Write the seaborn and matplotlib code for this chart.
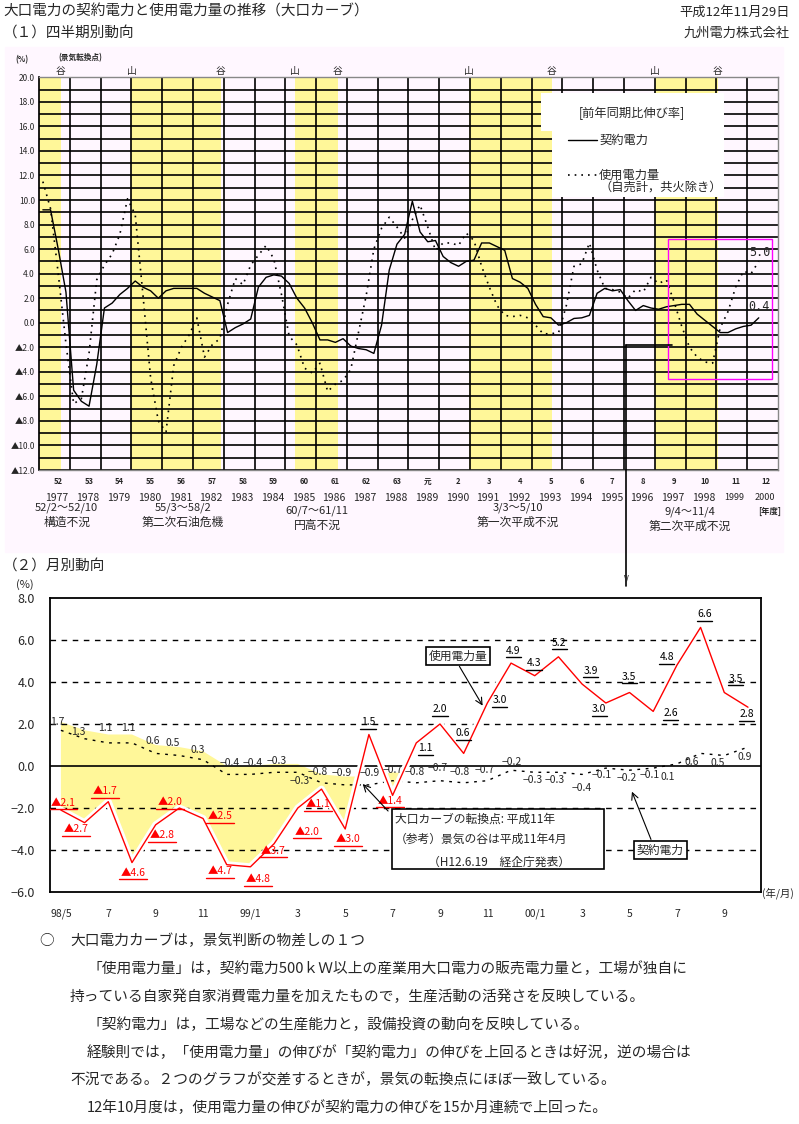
import numpy as np
import pandas as pd
import matplotlib
matplotlib.use("Agg")
import matplotlib.pyplot as plt
import matplotlib.patheffects as pe
from matplotlib.patches import Rectangle
from matplotlib.lines import Line2D
import seaborn as sns

# ---------------- (1) quarterly data : FY1977 Q1 .. FY2000 Q2 ----------------
fiscal_years = list(range(1977, 2001))
era_labels = ['52', '53', '54', '55', '56', '57', '58', '59', '60', '61', '62', '63',
              '元', '2', '3', '4', '5', '6', '7', '8', '9', '10', '11', '12']

# contract power (solid)
keiyaku_q = [9.2, 9.2, 6.0, 2.5,  -5.5, -6.4, -6.8, -3.4,  1.2, 1.6, 2.3, 2.8,
             3.4, 2.9, 2.6, 2.0,  2.6, 2.8, 2.8, 2.8,  2.8, 2.4, 2.1, 1.8,
             -0.8, -0.4, -0.1, 0.3,  2.9, 3.7, 3.9, 3.8,  3.2, 2.0, 1.2, 0.0,
             -1.4, -1.4, -1.6, -1.3,  -1.9, -2.1, -2.2, -2.5,  -0.2, 4.3, 6.4, 7.2,
             9.9, 7.4, 6.6, 6.7,  5.4, 4.9, 4.6, 5.0,  5.1, 6.5, 6.5, 6.2,
             5.9, 3.6, 3.3, 2.8,  1.5, 0.5, 0.4, -0.2,  0.0, 0.35, 0.4, 0.6,
             2.4, 2.8, 2.6, 2.7,  1.8, 1.0, 1.4, 1.2,  1.1, 1.3, 1.4, 1.5,
             1.5, 0.7, 0.2, -0.3,  -0.8, -0.8, -0.5, -0.3,  -0.2, 0.4]
# electricity used (dotted)
shiyou_q = [11.5, 9.3, 4.0, -1.7,  -6.6, -6.2, -2.5, 3.5,  4.7, 5.6, 7.2, 10.1,
            8.8, 2.3, -4.5, -8.0,  -8.9, -3.5, -2.0, -1.0,  0.4, -2.8, -1.8, -1.3,
            1.5, 3.6, 3.1, 4.7,  5.5, 6.3, 5.2, 2.3,  -1.1, -1.8, -3.7, -4.1,
            -3.3, -5.6, -5.0, -4.7,  -3.8, -0.8, 2.2, 6.0,  7.7, 8.6, 7.8, 6.9,
            8.4, 9.6, 7.8, 5.9,  6.5, 6.5, 6.3, 7.3,  6.7, 4.6, 2.9, 1.4,
            0.6, 0.5, 0.6, 0.4,  -0.2, -0.9, -0.9, -0.8,  1.4, 4.6, 4.8, 6.5,
            4.3, 2.8, 2.7, 2.5,  2.0, 2.7, 2.5, 3.7,  3.2, 3.5, 1.7, -0.3,
            -2.0, -2.8, -3.2, -3.3,  -0.4, 0.9, 2.9, 4.2,  4.0, 5.0]

turn_points = [1977.7, 1980.0, 1982.9, 1985.3, 1986.7, 1990.95, 1993.65, 1997.0, 1999.05]
turn_labels = ['谷', '山', '谷', '山', '谷', '山', '谷', '山', '谷']
recession_periods = ['52/2～52/10', '55/3～58/2', '60/7～61/11', '3/3～5/10', '9/4～11/4']
recession_names = ['構造不況', '第二次石油危機', '円高不況', '第一次平成不況', '第二次平成不況']
recession_label_x = [66.7, 183, 317, 518, 690]      # pixel centres of the captions
recession_label_y = [508, 508, 511, 508, 512]

# ---------------- (2) monthly data : 98/5 .. 00/10 ----------------
months = ['98/5', '6', '7', '8', '9', '10', '11', '12',
          '99/1', '2', '3', '4', '5', '6', '7', '8', '9', '10', '11', '12',
          '00/1', '2', '3', '4', '5', '6', '7', '8', '9', '10']
keiyaku_m = [1.7, 1.3, 1.1, 1.1, 0.6, 0.5, 0.3, -0.4, -0.4, -0.3, -0.3, -0.8, -0.9, -0.9,
             -0.7, -0.8, -0.7, -0.8, -0.7, -0.2, -0.3, -0.3, -0.4, -0.1, -0.2, -0.1,
             0.1, 0.6, 0.5, 0.9]
shiyou_m = [-2.1, -2.7, -1.7, -4.6, -2.8, -2.0, -2.5, -4.7, -4.8, -3.7, -2.0, -1.1, -3.0,
            1.5, -1.4, 1.1, 2.0, 0.6, 3.0, 4.9, 4.3, 5.2, 3.9, 3.0, 3.5, 2.6, 4.8, 6.6,
            3.5, 2.8]

# label offsets (months, %) for the value labels
shiyou_dx = [0.08, -0.37, -0.14, 0.04, 0.26, -0.4, 0.71, -0.29, 0.32, -0.05, 0.38, -0.15,
             0.11, -0.04, -0.11, 0.39, 0.0, -0.02, 0.53, 0.09, -0.03, 0.03, 0.36, -0.28,
             -0.01, 0.74, -0.43, 0.16, 0.48, -0.06]
shiyou_dy = [0.35, -0.3, 0.52, -0.48, -0.49, 0.27, 0.12, -0.3, -0.6, -0.33, -1.13, -0.71,
             -0.49, 0.6, -0.25, -0.26, 0.7, 0.96, 0.14, 0.59, 0.59, 0.67, 0.64, -0.3, 0.75,
             -0.09, 0.4, 0.62, 0.66, -0.34]
keiyaku_dx = [-0.17, -0.28, -0.14, -0.17, -0.12, -0.27, -0.22, 0.13, 0.1, 0.12, 0.09, -0.15,
              -0.14, 0.04, 0.01, -0.06, -0.09, -0.16, -0.1, 0.04, -0.08, -0.15, -0.01, -0.16,
              -0.11, -0.14, -0.38, -0.37, -0.27, -0.13]
keiyaku_dy = [0.4, 0.3, 0.7, 0.7, 0.6, 0.6, 0.46, 0.53, 0.53, 0.54, -0.41, 0.53, 0.55, 0.55,
              0.51, 0.53, 0.62, 0.53, 0.51, 0.4, -0.37, -0.37, -0.66, -0.33, -0.39, -0.33,
              -0.61, -0.4, -0.34, -0.49]

notes = ['大口電力カーブは，景気判断の物差しの１つ',
         '「使用電力量」は，契約電力500ｋＷ以上の産業用大口電力の販売電力量と，工場が独自に',
         '持っている自家発自家消費電力量を加えたもので，生産活動の活発さを反映している。',
         '「契約電力」は，工場などの生産能力と，設備投資の動向を反映している。',
         '経験則では，「使用電力量」の伸びが「契約電力」の伸びを上回るときは好況，逆の場合は',
         '不況である。２つのグラフが交差するときが，景気の転換点にほぼ一致している。',
         '12年10月度は，使用電力量の伸びが契約電力の伸びを15か月連続で上回った。']
notes_x = [70, 87, 70, 87, 87, 70, 87]

YELLOW = '#FFF799'
LAVENDER = '#FFF7FF'
RED = '#FF0000'

sns.set_theme(style="white")
plt.rcParams['font.family'] = ['Noto Sans CJK JP', 'DejaVu Sans']
plt.rcParams['axes.unicode_minus'] = True

W, H = 799, 1124
fig = plt.figure(figsize=(W / 100, H / 100), dpi=100)
fig.patch.set_facecolor('white')


def fx(x):
    return x / W


def fy(y):
    return 1 - y / H


# header texts
fig.text(fx(3), fy(12), '大口電力の契約電力と使用電力量の推移（大口カーブ）', fontsize=10.5, va='center')
fig.text(fx(3), fy(33), '（１）四半期別動向', fontsize=10.5, va='center')
fig.text(fx(790), fy(12), '平成12年11月29日', fontsize=9.5, va='center', ha='right')
fig.text(fx(790), fy(33), '九州電力株式会社', fontsize=9.5, va='center', ha='right')
fig.text(fx(3), fy(566), '（２）月別動向', fontsize=10.5, va='center')

fig.add_artist(Rectangle((fx(5), fy(552)), fx(783) - fx(5), fy(47) - fy(552),
                         transform=fig.transFigure, color=LAVENDER, zorder=-1))

# ================= (1) quarterly chart =================
ax1 = fig.add_axes([fx(39), fy(470), fx(778) - fx(39), fy(77.3) - fy(470)])
ax1.set_facecolor(LAVENDER)
qx = [yr + 0.125 + 0.25 * q for yr in fiscal_years for q in range(4)][:len(keiyaku_q)]
df_q = pd.DataFrame({'x': qx, 'keiyaku': keiyaku_q, 'shiyou': shiyou_q})

# recession bands (peak -> trough); the first starts before the axis
starts = [1977.0] + [t for t, l in zip(turn_points, turn_labels) if l == '山']
ends = [t for t, l in zip(turn_points, turn_labels) if l == '谷']
for s, e in zip(starts, ends):
    ax1.axvspan(s, e, color=YELLOW, lw=0, zorder=0.2)

ax1.set_xlim(1977, 2001)
ax1.set_ylim(-12, 20)
yt = list(range(-12, 21, 2))
ax1.set_yticks(yt)
ax1.set_yticklabels([f'{v:.1f}' if v >= 0 else f'▲{-v:.1f}' for v in yt], fontsize=6)
ax1.set_yticks(range(-11, 20, 2), minor=True)
ax1.set_xticks(fiscal_years[1:])
ax1.set_xticklabels([])
ax1.grid(True, which='both', color='black', lw=1.2)
ax1.set_axisbelow(True)
ax1.tick_params(axis='both', which='both', length=0, pad=3)
for side in ['top', 'right', 'bottom']:
    ax1.spines[side].set_color('#888888')
    ax1.spines[side].set_linewidth(1.0)
ax1.spines['left'].set_color('black')

sns.lineplot(data=df_q, x='x', y='keiyaku', ax=ax1, color='black', lw=1.0, zorder=4)
sns.lineplot(data=df_q, x='x', y='shiyou', ax=ax1, color='black', lw=1.2, zorder=4)
ax1.lines[-1].set_linestyle((0, (1, 3)))
ax1.set_xlabel('')
ax1.set_ylabel('')

# legend panel
ax1.add_patch(Rectangle((1993.3, 15.6), 5.95, 3.1, color='white', zorder=2.5, lw=0))
ax1.add_patch(Rectangle((1993.66, 10.25), 5.6, 5.5, color='white', zorder=2.5, lw=0))
ax1.text(1996.25, 17.07, '[前年同期比伸び率]', fontsize=8.8, ha='center', va='center', zorder=5)
ax1.plot([1994.18, 1995.12], [14.87, 14.87], color='black', lw=1.0, zorder=5)
ax1.text(1995.19, 14.87, '契約電力', fontsize=8.8, va='center', zorder=5)
ax1.plot([1994.18, 1995.12], [12.04, 12.04], color='black', lw=1.2, ls=(0, (1, 3)), zorder=5)
ax1.text(1995.19, 12.04, '使用電力量', fontsize=8.8, va='center', zorder=5)
ax1.text(1995.19, 10.95, '（自売計，共火除き）', fontsize=8.8, va='center', zorder=5)

# last values + highlight box
ax1.text(2000.05, shiyou_q[-1] + 0.76, f'{shiyou_q[-1]:.1f}', fontsize=8.5, va='center',
         family='DejaVu Sans Mono', zorder=5)
ax1.text(2000.05, keiyaku_q[-1] + 0.96, f'{keiyaku_q[-1]:.1f}', fontsize=8.5, va='center',
         family='DejaVu Sans Mono', zorder=5)
ax1.add_patch(Rectangle((1997.42, -4.6), 3.38, 11.4, fill=False, edgecolor='#FF00FF',
                        lw=1.0, zorder=5))

for t, l in zip(turn_points, turn_labels):
    ax1.text(t, 20.5, l, fontsize=7, ha='center', va='center', clip_on=False)
fig.text(fx(22), fy(60), '(%)', fontsize=5.5, ha='center', va='center', weight='bold')
fig.text(fx(80), fy(58), '(景気転換点)', fontsize=5.5, ha='center', va='center', weight='bold')

for yr, era in zip(fiscal_years, era_labels):
    xp = 39 + (yr - 1977 + 0.62) * 30.79
    fig.text(fx(xp), fy(482), era, fontsize=5.5, ha='center', va='center', weight='bold')
    fig.text(fx(xp - 1), fy(498), str(yr), fontsize=7.5 if yr < 1999 else 6.5,
             ha='center', va='center')
fig.text(fx(770), fy(511), '[年度]', fontsize=6, ha='center', va='center', weight='bold')
for px_, py_, per, name in zip(recession_label_x, recession_label_y,
                               recession_periods, recession_names):
    fig.text(fx(px_), fy(py_), per, fontsize=8, ha='center', va='center')
    fig.text(fx(px_), fy(py_ + 14), name, fontsize=8.5, ha='center', va='center')

# connector from the quarterly box down to the monthly chart
fig.add_artist(Line2D([fx(672), fx(626)], [fy(345), fy(345)], transform=fig.transFigure,
                      color='black', lw=1.2))
fig.add_artist(Line2D([fx(626), fx(626)], [fy(345), fy(586)], transform=fig.transFigure,
                      color='black', lw=1.2))
fig.text(fx(626.5), fy(580), 'V', fontsize=6, ha='center', va='center')

# ================= (2) monthly chart =================
ax2 = fig.add_axes([fx(50), fy(892), fx(761) - fx(50), fy(598) - fy(892)])
mx = np.arange(len(months))
km = np.array(keiyaku_m)
sm = np.array(shiyou_m)
df_m = pd.DataFrame({'x': mx, 'keiyaku': km, 'shiyou': sm})

ax2.set_xlim(-0.46, 29.55)
ax2.set_ylim(-6, 8)
yt2 = list(range(-6, 9, 2))
ax2.set_yticks(yt2)
ax2.set_yticklabels([f'{v:.1f}'.replace('-', '−') for v in yt2], fontsize=9)
ax2.set_xticks(mx[::2])
ax2.set_xticklabels(months[::2], fontsize=7.5)
ax2.tick_params(axis='y', length=0, pad=11)
ax2.tick_params(axis='x', length=0, pad=12)
for v in yt2:
    if v in (-6, 0, 8):
        continue
    ax2.axhline(v, color='black', lw=1.0, ls=(0, (4, 4)), zorder=1.5)
ax2.axhline(0, color='black', lw=1.2, zorder=1.5)
for sp in ax2.spines.values():
    sp.set_color('black')
    sp.set_linewidth(1.3)

ax2.fill_between(mx, sm, km + 0.4, where=(km + 0.4) > sm, interpolate=True,
                 color=YELLOW, lw=0, zorder=1)
sns.lineplot(data=df_m, x='x', y='keiyaku', ax=ax2, color='black', lw=1.0, zorder=3)
ax2.lines[-1].set_linestyle((0, (2, 4)))
sns.lineplot(data=df_m, x='x', y='shiyou', ax=ax2, color=RED, lw=1.0, zorder=4)
ax2.lines[-1].set_path_effects([pe.Stroke(linewidth=5, foreground='white'), pe.Normal()])
ax2.set_xlabel('')
ax2.set_ylabel('')

for i in range(len(months)):
    v = shiyou_m[i]
    lx, ly = mx[i] + shiyou_dx[i], v + shiyou_dy[i]
    neg = v < 0
    txt = f'▲{abs(v):.1f}' if neg else f'{v:.1f}'
    col = RED if neg else 'black'
    ax2.text(lx, ly, txt, color=col, ha='center', va='center', fontsize=7.5, zorder=6)
    half = 0.58 if neg else 0.32
    ax2.plot([lx - half, lx + half], [ly - 0.32] * 2, color=col, lw=1.0, zorder=6)

    k = keiyaku_m[i]
    ax2.text(mx[i] + keiyaku_dx[i], k + keiyaku_dy[i], f'{k:.1f}'.replace('-', '−'),
             ha='center', va='center', fontsize=7.5, zorder=6)

# callouts
ax2.add_patch(Rectangle((13.96, -4.92), 8.97, 2.86, facecolor='white', edgecolor='black',
                        lw=1.2, zorder=7))
ax2.text(14.1, -2.52, '大口カーブの転換点: 平成11年', fontsize=8.5, va='center', zorder=8)
ax2.text(14.1, -3.49, '（参考）景気の谷は平成11年4月', fontsize=8.5, va='center', zorder=8)
ax2.text(15.49, -4.6, '（H12.6.19　経企庁発表）', fontsize=8.5, va='center', zorder=8)
ax2.annotate('', xy=(12.66, -0.76), xytext=(13.89, -2.24),
             arrowprops=dict(arrowstyle='->', color='black', lw=0.8), zorder=8)

ax2.text(16.76, 5.24, '使用電力量', fontsize=8.5, ha='center', va='center', zorder=8,
         bbox=dict(boxstyle='square,pad=0.25', facecolor='white', edgecolor='black', lw=1.2))
ax2.annotate('', xy=(17.86, 2.76), xytext=(16.76, 4.86),
             arrowprops=dict(arrowstyle='->', color='black', lw=0.8), zorder=8)
ax2.text(25.29, -4.0, '契約電力', fontsize=8.5, ha='center', va='center', zorder=8,
         bbox=dict(boxstyle='square,pad=0.25', facecolor='white', edgecolor='black', lw=1.2))
ax2.annotate('', xy=(24.06, -1.1), xytext=(24.95, -3.62),
             arrowprops=dict(arrowstyle='->', color='black', lw=0.8), zorder=8)

fig.text(fx(25), fy(585), '(%)', fontsize=8, ha='center', va='center')
fig.text(fx(778), fy(893), '(年/月)', fontsize=7.5, ha='center', va='center')

# ================= notes =================
fig.text(fx(47), fy(941), '○', fontsize=10.5, ha='center', va='center')
for k, (line, x0) in enumerate(zip(notes, notes_x)):
    fig.text(fx(x0), fy(941 + 27.8 * k), line, fontsize=10.6, va='center')

fig.savefig('out.png', dpi=100)
